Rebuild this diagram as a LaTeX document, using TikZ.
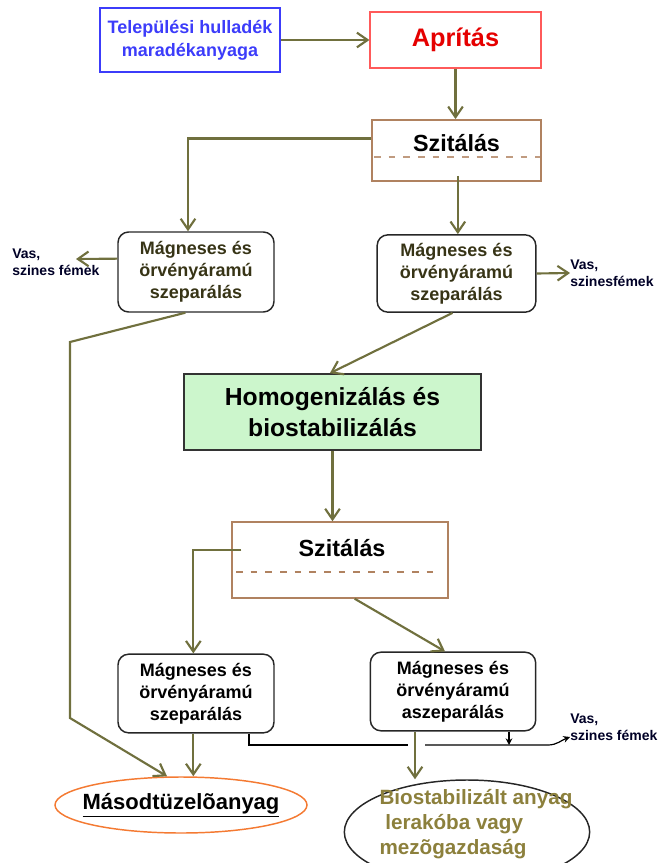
\documentclass[tikz,border=0pt]{standalone}
\usepackage{fontspec}
\setmainfont{Liberation Sans}
\usetikzlibrary{arrows.meta,shapes.geometric}
\definecolor{flowolive}{RGB}{112,112,62}
\definecolor{srcblue}{RGB}{60,60,250}
\definecolor{aprred}{RGB}{255,90,90}
\definecolor{szitbrown}{RGB}{176,130,96}
\definecolor{homoggreen}{RGB}{204,246,204}
\definecolor{masodorange}{RGB}{244,122,50}
\definecolor{biotext}{RGB}{140,128,60}
\definecolor{magtext}{RGB}{55,52,22}
\begin{document}
\begin{tikzpicture}[x=0.75pt, y=-0.75pt,
    flow/.style={draw=flowolive, line width=1.6pt, -{Straight Barb[length=8pt,width=11pt]}},
    blk/.style={draw=black, line width=0.9pt},
    stepbox/.style={draw, line width=1.1pt, align=center, inner sep=0pt},
    magbox/.style={stepbox, draw=black!85, rounded corners=8pt, font=\bfseries\fontsize{13.5}{16.5}\selectfont},
    vaslabel/.style={anchor=west, align=left, inner sep=0pt, text=black!85!blue, font=\bfseries\fontsize{10.5}{12.5}\selectfont}]
\useasboundingbox (0,0) rectangle (665,863);

\node[stepbox, draw=srcblue, text=srcblue, minimum width=135pt, minimum height=48pt,
      font=\bfseries\fontsize{13.5}{17}\selectfont] (src) at (190,40) {Települési hulladék\\maradékanyaga};
\node[stepbox, draw=aprred, text=red!90!black, minimum width=128pt, minimum height=42pt,
      font=\bfseries\fontsize{19}{22}\selectfont] (aprit) at (455.5,40) {Aprítás};

\node[stepbox, draw=szitbrown, minimum width=127pt, minimum height=46pt] (szit1) at (456.5,150.5) {};
\node[font=\bfseries\fontsize{17.5}{20}\selectfont] (szit1txt) at (456.5,143) {Szitálás};
\draw[szitbrown!80, line width=1pt, dash pattern=on 5pt off 6pt] (374,157) -- (540,157);

\node[magbox, text=magtext, minimum width=117pt, minimum height=60pt] (mag1) at (196,272)
    {Mágneses és\\örvényáramú\\szeparálás};
\node[magbox, text=magtext, minimum width=119pt, minimum height=58pt] (mag2) at (456.5,273.5)
    {Mágneses és\\örvényáramú\\szeparálás};
\node[vaslabel] (vas1) at (12,262) {Vas,\\szines fémek};
\node[vaslabel] (vas2) at (570,273) {Vas,\\szinesfémek};
\coordinate (vas1tip) at (76,259);

\node[stepbox, draw=black!80, fill=homoggreen, minimum width=223pt, minimum height=57pt,
      font=\bfseries\fontsize{18.5}{23}\selectfont] (homog) at (332.5,412) {Homogenizálás és\\biostabilizálás};

\node[stepbox, draw=szitbrown, minimum width=162pt, minimum height=57pt] (szit2) at (340,560) {};
\node[font=\bfseries\fontsize{17.5}{20}\selectfont] (szit2txt) at (342,548) {Szitálás};
\draw[szitbrown, line width=1pt, dash pattern=on 5pt off 6pt] (236,572) -- (440,572);

\node[magbox, minimum width=117pt, minimum height=59pt] (mag3) at (196,693.5)
    {Mágneses és\\örvényáramú\\szeparálás};
\node[magbox, minimum width=124pt, minimum height=59pt] (mag4) at (453,691.5)
    {Mágneses és\\örvényáramú\\aszeparálás};
\node[vaslabel] (vas3) at (570,727) {Vas,\\szines fémek};

\node[ellipse, draw=masodorange, line width=1.1pt, minimum width=189pt, minimum height=42pt, inner sep=0pt] (masod) at (181,805) {};
\node[font=\bfseries\fontsize{16.5}{20}\selectfont] (masodtxt) at (masod.center) {\underline{Másodtüzelõanyag}};
\node[ellipse, draw=black!85, line width=1.1pt, minimum width=184pt, minimum height=78pt, inner sep=0pt] (biostab) at (467,832) {};
\node[text=biotext, align=left, inner sep=0pt, font=\bfseries\fontsize{15.5}{18.5}\selectfont] (biotxt) at (476,824)
    {Biostabilizált anyag\\\ lerakóba vagy\\mezõgazdaság};

% main flow
\draw[flow] (src.east) -- (aprit.west |- src.east);
\draw[flow] (aprit.south) -- (aprit.south |- szit1.north);
\draw[flow] ([yshift=9pt]szit1.west) -| ([xshift=-6pt]mag1.north);
\draw[flow] ([xshift=1pt,yshift=4.5pt]szit1.south) -- ([xshift=1pt]mag2.north);
\draw[flow] ([yshift=10pt]mag1.west) -- (vas1tip);
\draw[flow] (mag2.east) -- (vas2.west);
\draw[flow] ([xshift=-3pt]mag2.south) -- ([xshift=-2pt]homog.north);
\draw[flow] (homog.south) -- (homog.south |- szit2.north);
\draw[flow] ([xshift=7.5pt,yshift=7.5pt]szit2.west) -| ([xshift=-2pt]mag3.north);
\draw[flow] ([xshift=11pt]szit2.south) -- ([xshift=-6pt]mag4.north);

% to the outputs
\coordinate (bend1) at (70,342);
\coordinate (bend2) at (70,718);
\draw[flow] ([xshift=-8pt]mag1.south) -- (bend1) -- (bend2) -- ([xshift=-10.5pt]masod.north);
\draw[flow] ([xshift=-2pt]mag3.south) -- ([xshift=-2pt]mag3.south |- masod.north);

\coordinate (gapl) at (408,745);
\coordinate (gapr) at (425,745);
\coordinate (bendv) at (548,745);
\draw[blk] ([xshift=39.75pt]mag3.south) |- (gapl);
\draw[blk, -{Stealth[length=5pt,width=5pt]}] (gapr) -- (bendv) to[out=0,in=200] ([yshift=-7.5pt]vas3.west);
\draw[blk, -{Stealth[length=5pt,width=5pt]}] ([xshift=42pt]mag4.south) -- ([xshift=42pt]mag4.south |- gapr);
\draw[flow] ([xshift=-28.5pt]mag4.south) -- ([xshift=-39pt]biostab.north);
\end{tikzpicture}
\end{document}
